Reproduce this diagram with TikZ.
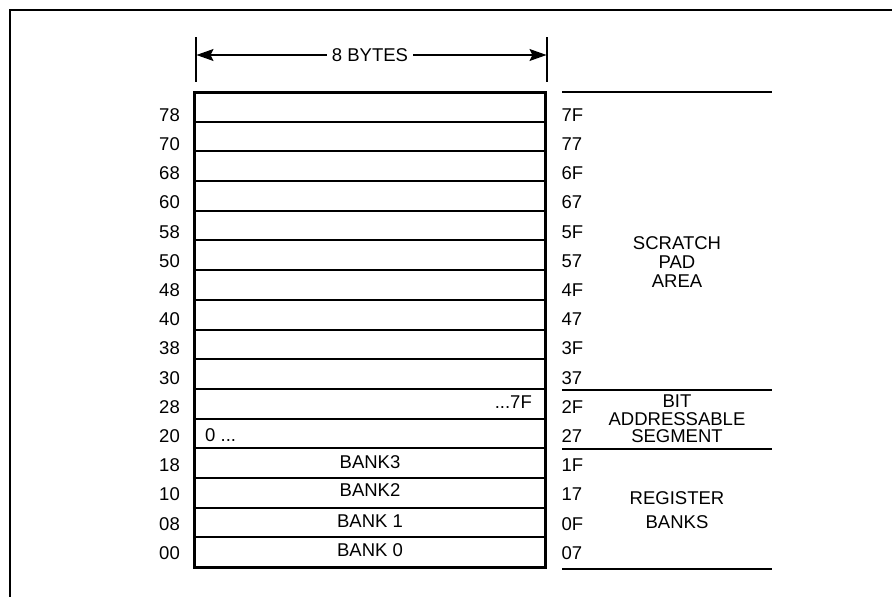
\documentclass[tikz,border=0pt]{standalone}
\usepackage{fontspec}
\setmainfont{Liberation Sans}
\usetikzlibrary{arrows.meta}
\begin{document}
\begin{tikzpicture}[x=1pt,y=-1pt,
  lab/.style={font=\fontsize{18.5}{19}\selectfont, inner sep=0pt},
  rowline/.style={line width=2pt},
  boxline/.style={line width=3pt},
  sideline/.style={line width=1.8pt},
  frameline/.style={line width=2.4pt},
  tick/.style={line width=1.7pt},
  dimarrow/.style={line width=1.1pt, -{Stealth[length=17pt,width=12pt,inset=3pt]}}
]
\useasboundingbox (0,0) rectangle (892,597);
% open frame
\draw[frameline] (9.7,597) -- (9.7,9.7) -- (892,9.7);
% row divider lines
\foreach \k in {1,...,15} {
  \draw[rowline] (194,{92+\k*29.69}) -- (545.5,{92+\k*29.69});
}
% main box
\draw[boxline] (194,92) rectangle (545.5,567);
% dimension
\coordinate (tl1) at (195.7,37);
\coordinate (tl2) at (195.7,82);
\coordinate (tr1) at (547.3,37);
\coordinate (tr2) at (547.3,82);
\draw[tick] (tl1) -- (tl2);
\draw[tick] (tr1) -- (tr2);
\coordinate (al) at (196.5,55);
\coordinate (ar) at (546.5,55);
\node[lab, inner xsep=5pt] (bytes) at (370,55) {8 BYTES};
\draw[dimarrow] (bytes.west) -- (al);
\draw[dimarrow] (bytes.east) -- (ar);
% left labels
\foreach \t [count=\i from 0] in {78,70,68,60,58,50,48,40,38,30,28,20,18,10,08,00} {
  \node[lab, anchor=east] (l\i) at (180,{115+\i*29.2}) {\t};
}
% right labels
\foreach \t [count=\i from 0] in {7F,77,6F,67,5F,57,4F,47,3F,37,2F,27,1F,17,0F,07} {
  \node[lab, anchor=west] (r\i) at (561.5,{115+\i*29.2}) {\t};
}
% side separator lines
\foreach \y [count=\j] in {92,390,449,569} {
  \coordinate (sa\j) at (562,\y);
  \coordinate (sb\j) at (772,\y);
  \draw[sideline] (sa\j) -- (sb\j);
}
% inside texts
\node[lab, anchor=east] (hi) at (532,402) {...7F};
\node[lab, anchor=west] (lo) at (205,435) {0 ...};
\node[lab] (b3) at (370,462) {BANK3};
\node[lab] (b2) at (370,490) {BANK2};
\node[lab] (b1) at (370,521) {BANK 1};
\node[lab] (b0) at (370,550) {BANK 0};
% region names
\node[lab, align=center, font=\fontsize{18.5}{19}\selectfont] (scratch) at (677,262) {SCRATCH\\PAD\\AREA};
\node[lab, align=center, font=\fontsize{18.5}{17.5}\selectfont] (bit) at (677,419) {BIT\\ADDRESSABLE\\SEGMENT};
\node[lab, align=center, font=\fontsize{18.5}{24}\selectfont] (reg) at (677,510) {REGISTER\\BANKS};
\end{tikzpicture}
\end{document}
